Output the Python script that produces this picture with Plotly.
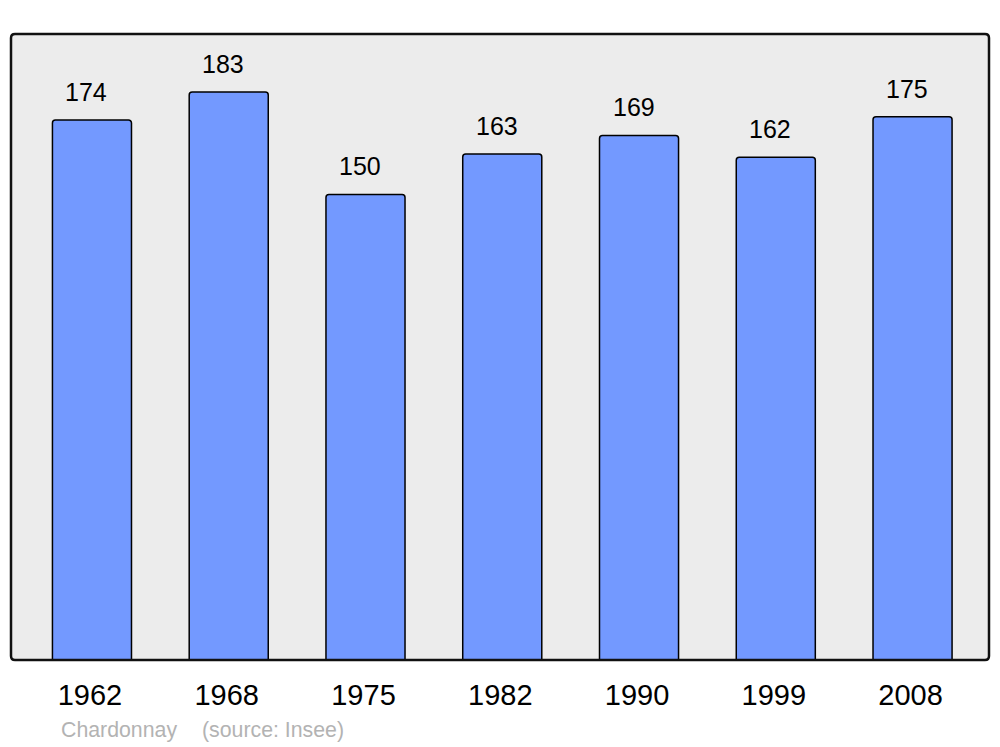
import plotly.graph_objects as go

years = ["1962", "1968", "1975", "1982", "1990", "1999", "2008"]
population = [174, 183, 150, 163, 169, 162, 175]
caption_place = "Chardonnay"
caption_source = "(source: Insee)"

fig = go.Figure()
fig.add_trace(go.Bar(
    x=years, y=population, width=0.578,
    marker=dict(color="#7399ff", line=dict(color="#000000", width=1.5), cornerradius=3),
    hoverinfo="skip",
))

for i, v in enumerate(population):
    fig.add_annotation(x=i, y=v, text=str(v), showarrow=False, yshift=28, xshift=-5.5,
                       font=dict(family="Liberation Sans, Arial", size=25, color="#000000"))

cap_font = dict(family="Liberation Sans, Arial", size=21.3, color="#b3b3b3")
fig.add_annotation(xref="paper", yref="paper", x=0.0495, y=-0.112, xanchor="left", yanchor="middle",
                   text=caption_place, showarrow=False, font=cap_font)
fig.add_annotation(xref="paper", yref="paper", x=0.1936, y=-0.112, xanchor="left", yanchor="middle",
                   text=caption_source, showarrow=False, font=cap_font)

# rounded plot frame
r_x = 4 / 978
r_y = 4 / 626
path = (f"M {r_x},0 L {1-r_x},0 Q 1,0 1,{r_y} L 1,{1-r_y} Q 1,1 {1-r_x},1 "
        f"L {r_x},1 Q 0,1 0,{1-r_y} L 0,{r_y} Q 0,0 {r_x},0 Z")
fig.add_shape(type="path", xref="paper", yref="paper", path=path,
              line=dict(color="#111111", width=2.5), layer="above")

fig.update_layout(
    width=1000, height=747,
    margin=dict(l=11, r=11, t=34, b=87),
    paper_bgcolor="#ffffff", plot_bgcolor="#ececec",
    showlegend=False,
    xaxis=dict(type="category", range=[-0.592, 6.559], showgrid=False, zeroline=False,
               showline=False, ticks="outside", ticklen=9, tickcolor="rgba(0,0,0,0)",
               ticklabelshift=-2,
               tickfont=dict(family="Liberation Sans, Arial", size=29, color="#000000")),
    yaxis=dict(range=[0, 201.7], showgrid=False, zeroline=False, showline=False,
               showticklabels=False, ticks=""),
)

fig.write_html("out.html", config={"displayModeBar": False},
               post_script="document.body.style.margin='0';document.body.style.overflow='hidden';")
